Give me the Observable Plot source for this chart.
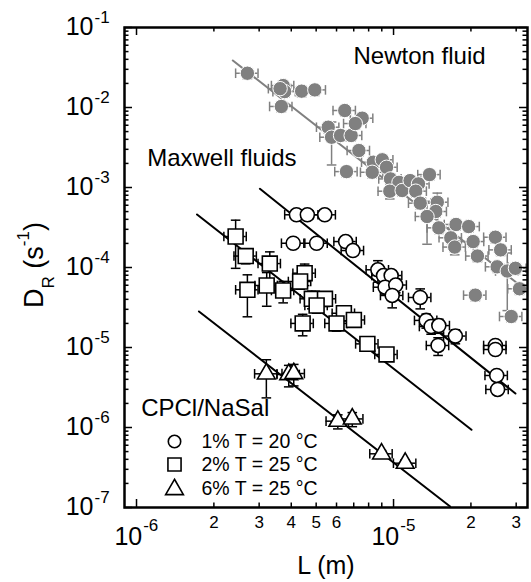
<!DOCTYPE html>
<html><head><meta charset="utf-8">
<script src="https://cdn.jsdelivr.net/npm/d3@7"></script>
<script src="https://cdn.jsdelivr.net/npm/@observablehq/plot@0.6"></script>
<style>body{margin:0;background:#fff;} svg{display:block;}</style>
</head><body><div id="chart"></div>
<script>
// ---- Newton fluid (gray filled circles)
const newtonL = [2.70e-6, 3.72e-6, 3.77e-6, 4.39e-6, 4.94e-6, 3.66e-6, 6.46e-6, 7.55e-6, 5.57e-6, 5.74e-6,
  6.22e-6, 6.84e-6, 7.33e-6, 6.56e-6, 8.34e-6, 9.04e-6, 9.39e-6, 8.26e-6, 9.73e-6, 1.05e-5,
  9.67e-6, 1.08e-5, 1.16e-5, 1.25e-5, 1.22e-5, 1.38e-5, 1.27e-5, 1.48e-5, 1.46e-5, 1.35e-5,
  1.50e-5, 1.75e-5, 1.96e-5, 1.67e-5, 1.73e-5, 2.04e-5, 2.12e-5, 2.49e-5, 2.61e-5, 2.53e-5,
  2.77e-5, 2.98e-5, 3.09e-5, 2.08e-5, 2.87e-5, 3.62e-6, 7.10e-6];
const newtonD = [2.68e-2, 1.88e-2, 1.58e-2, 1.60e-2, 1.66e-2, 1.03e-2, 9.17e-3, 7.35e-3, 5.67e-3, 4.25e-3,
  4.47e-3, 4.47e-3, 2.90e-3, 1.58e-3, 2.07e-3, 2.22e-3, 1.79e-3, 1.55e-3, 1.28e-3, 1.16e-3,
  8.99e-4, 9.17e-4, 1.22e-3, 1.11e-3, 9.00e-4, 1.45e-3, 6.37e-4, 6.55e-4, 5.01e-4, 4.34e-4,
  3.13e-4, 3.45e-4, 3.25e-4, 2.35e-4, 1.80e-4, 2.11e-4, 1.39e-4, 2.39e-4, 1.66e-4, 1.02e-4,
  9.04e-5, 9.77e-5, 5.42e-5, 4.51e-5, 2.44e-5, 1.72e-2, 6.30e-3];
const newtonErrD = [0.15, 0.15, 0.15, 0.15, 0.15, 0.15, 0.15, 0.15, 0.15, 0.55,
  0.15, 0.15, 0.15, 0.15, 0.15, 0.15, 0.15, 0.15, 0.15, 0.15,
  0.2, 0.15, 0.15, 0.15, 0.15, 0.15, 0.15, 0.3, 0.15, 0.55,
  0.15, 0.15, 0.15, 0.15, 0.2, 0.15, 0.15, 0.15, 0.15, 0.15,
  0.68, 0.15, 0.15, 0.15, 0.15, 0.15, 0.15];
// ---- CPCl/NaSal 1% T = 20 °C (open circles)
const c1L = [4.19e-6, 4.62e-6, 5.40e-6, 4.07e-6, 5.02e-6, 6.51e-6, 6.95e-6, 8.69e-6, 9.14e-6, 9.79e-6,
  9.27e-6, 1.02e-5, 9.88e-6, 1.27e-5, 1.34e-5, 1.40e-5, 1.50e-5, 1.49e-5, 1.74e-5, 2.49e-5,
  2.49e-5, 2.52e-5, 2.54e-5];
const c1D = [4.56e-4, 4.56e-4, 4.56e-4, 2.01e-4, 2.01e-4, 2.11e-4, 1.63e-4, 9.36e-5, 7.94e-5, 7.94e-5,
  5.67e-5, 6.04e-5, 4.47e-5, 4.22e-5, 2.18e-5, 1.83e-5, 1.88e-5, 1.06e-5, 1.39e-5, 1.06e-5,
  9.44e-6, 4.47e-6, 2.99e-6];
const c1ErrD = [0, 0, 0, 0, 0, 0, 0, 0.3, 0.1, 0.1, 0.2, 0.2, 0.3, 0.28, 0.2, 0.2, 0.2, 0.25, 0.2, 0, 0, 0.1, 0.1];
// ---- 2% T = 25 °C (open squares)
const c2L = [2.43e-6, 2.66e-6, 3.30e-6, 2.70e-6, 3.21e-6, 3.72e-6, 4.51e-6, 4.33e-6, 4.81e-6, 5.41e-6,
  5.02e-6, 6.41e-6, 7.01e-6, 4.43e-6, 6.00e-6, 7.91e-6, 9.39e-6];
const c2D = [2.44e-4, 1.39e-4, 1.12e-4, 5.26e-5, 5.96e-5, 5.16e-5, 8.49e-5, 6.68e-5, 4.06e-5, 4.06e-5,
  3.35e-5, 2.68e-5, 2.21e-5, 2.00e-5, 2.00e-5, 1.11e-5, 8.18e-6];
const c2ErrD = [0.6, 0.2, 0.4, 0.54, 0.45, 0.3, 0.3, 0.2, 0.25, 0.2, 0.2, 0.2, 0.15, 0.3, 0.2, 0.1, 0.1];
// ---- 6% T = 25 °C (open triangles)
const c6L = [3.20e-6, 3.91e-6, 4.09e-6, 6.07e-6, 6.91e-6, 8.98e-6, 1.11e-5];
const c6D = [4.69e-6, 4.60e-6, 4.73e-6, 1.20e-6, 1.28e-6, 4.69e-7, 3.58e-7];
const c6ErrD = [0.5, 0.3, 0.3, 0.2, 0.2, 0.1, 0.1];
// relative horizontal error on L
const errL = 0.1;
// ---- fit lines (end points)
const fitNewtonL = [2.37e-6, 3.04e-5], fitNewtonD = [3.87e-2, 6.31e-5];
const fit1L = [3.02e-6, 2.98e-5], fit1D = [9.63e-4, 2.66e-6];
const fit2L = [1.72e-6, 2.01e-5], fit2D = [4.60e-4, 9.36e-7];
const fit6L = [1.75e-6, 1.66e-5], fit6D = [2.82e-5, 1.03e-7];
// ---- axes
const xDomain = [8.98e-7, 3.32e-5];
const yDomain = [1e-7, 1e-1];
const yTicks = [1e-1, 1e-2, 1e-3, 1e-4, 1e-5, 1e-6, 1e-7];
const xMajor = [1e-6, 1e-5];
const xMinorVals = [2e-6, 3e-6, 4e-6, 5e-6, 6e-6, 7e-6, 8e-6, 9e-6, 2e-5, 3e-5];
const xMinorLabVals = [2e-6, 3e-6, 4e-6, 5e-6, 6e-6, 2e-5, 3e-5];
const xMinorLabText = ["2", "3", "4", "5", "6", "2", "3"];
const legendLabels = ["1% T = 20 °C", "2% T = 25 °C", "6% T = 25 °C"];

const rows = (L, D, E) => L.map((l, i) => ({L: l, D: D[i], ey: E ? E[i] : 0}));
const newton = rows(newtonL, newtonD, newtonErrD);
const s1 = rows(c1L, c1D, c1ErrD), s2 = rows(c2L, c2D, c2ErrD), s6 = rows(c6L, c6D, c6ErrD);
const line = (L, D) => L.map((l, i) => ({L: l, D: D[i]}));
const yMinor = d3.range(-7, -1).flatMap(e => d3.range(2, 10).map(k => k * Math.pow(10, e)));

const vCap = {draw(ctx, size) { const r = Math.sqrt(size / Math.PI); ctx.moveTo(0, -r); ctx.lineTo(0, r); }};
const hCap = {draw(ctx, size) { const r = Math.sqrt(size / Math.PI); ctx.moveTo(-r, 0); ctx.lineTo(r, 0); }};

const GRAY = "#808080";
function errorMarks(data, color) {
  const v = data.filter(d => d.ey > 0);
  return [
    Plot.ruleY(data, {y: "D", x1: d => d.L * (1 - errL), x2: d => d.L * (1 + errL), stroke: color, strokeWidth: 1.5, clip: true}),
    Plot.dot(data, {x: d => d.L * (1 - errL), y: "D", symbol: vCap, r: 4.8, fill: "none", stroke: color, strokeWidth: 1.5, clip: true}),
    Plot.dot(data, {x: d => d.L * (1 + errL), y: "D", symbol: vCap, r: 4.8, fill: "none", stroke: color, strokeWidth: 1.5, clip: true}),
    Plot.ruleX(v, {x: "L", y1: d => d.D * (1 - d.ey), y2: d => d.D * (1 + d.ey), stroke: color, strokeWidth: 1.5, clip: true}),
    Plot.dot(v, {x: "L", y: d => d.D * (1 - d.ey), symbol: hCap, r: 4.8, fill: "none", stroke: color, strokeWidth: 1.5, clip: true}),
    Plot.dot(v, {x: "L", y: d => d.D * (1 + d.ey), symbol: hCap, r: 4.8, fill: "none", stroke: color, strokeWidth: 1.5, clip: true})
  ];
}
const FONT = "Liberation Sans, Arial, Helvetica, sans-serif";
const FH = 480, FW = 403;

const chart = Plot.plot({
  width: 531, height: 582,
  marginLeft: 124, marginRight: 4, marginTop: 27, marginBottom: 75,
  style: {background: "white", fontFamily: FONT, color: "black"},
  x: {type: "log", domain: xDomain, axis: null},
  y: {type: "log", domain: yDomain, axis: null},
  marks: [
    ...errorMarks(newton, GRAY),
    Plot.line(line(fitNewtonL, fitNewtonD), {x: "L", y: "D", stroke: GRAY, strokeWidth: 2}),
    Plot.dot(newton, {x: "L", y: "D", r: 7.2, fill: GRAY, stroke: "white", strokeWidth: 1}),
    Plot.line(line(fit1L, fit1D), {x: "L", y: "D", stroke: "black", strokeWidth: 2}),
    Plot.line(line(fit2L, fit2D), {x: "L", y: "D", stroke: "black", strokeWidth: 2}),
    Plot.line(line(fit6L, fit6D), {x: "L", y: "D", stroke: "black", strokeWidth: 2}),
    ...errorMarks(s1, "black"),
    ...errorMarks(s2, "black"),
    ...errorMarks(s6, "black"),
    Plot.dot(s1, {x: "L", y: "D", r: 7, symbol: d3.symbolCircle, fill: "white", stroke: "black", strokeWidth: 1.6}),
    Plot.dot(s2, {x: "L", y: "D", r: 8.4, symbol: d3.symbolSquare, fill: "white", stroke: "black", strokeWidth: 1.6}),
    Plot.dot(s6, {x: "L", y: "D", r: 6.6, symbol: d3.symbolTriangle, fill: "white", stroke: "black", strokeWidth: 1.6}),
    // ticks (inward, all four sides)
    Plot.tickX(xMajor, {x: d => d, insetTop: FH - 8, stroke: "black", strokeWidth: 1.5}),
    Plot.tickX(xMajor, {x: d => d, insetBottom: FH - 8, stroke: "black", strokeWidth: 1.5}),
    Plot.tickX(xMinorVals, {x: d => d, insetTop: FH - 4.5, stroke: "black", strokeWidth: 1.5}),
    Plot.tickX(xMinorVals, {x: d => d, insetBottom: FH - 4.5, stroke: "black", strokeWidth: 1.5}),
    Plot.tickY(yTicks, {y: d => d, insetRight: FW - 8, stroke: "black", strokeWidth: 1.5}),
    Plot.tickY(yTicks, {y: d => d, insetLeft: FW - 8, stroke: "black", strokeWidth: 1.5}),
    Plot.tickY(yMinor, {y: d => d, insetRight: FW - 4.5, stroke: "black", strokeWidth: 1.5}),
    Plot.tickY(yMinor, {y: d => d, insetLeft: FW - 4.5, stroke: "black", strokeWidth: 1.5}),
    Plot.frame({stroke: "black", strokeWidth: 2.5}),
    // y tick labels
    Plot.text(yTicks, {y: d => d, frameAnchor: "left", dx: -31, dy: 7, textAnchor: "end", lineAnchor: "bottom", text: () => "10", fontSize: 25, fill: "black"}),
    Plot.text(yTicks, {y: d => d, frameAnchor: "left", dx: -30, dy: -5, textAnchor: "start", lineAnchor: "bottom", text: d => "-" + Math.round(-Math.log10(d)), fontSize: 17, fill: "black"}),
    // x tick labels
    Plot.text(xMajor, {x: d => d, frameAnchor: "bottom", dx: 5.7, dy: 37, textAnchor: "end", lineAnchor: "bottom", text: () => "10", fontSize: 25, fill: "black"}),
    Plot.text(xMajor, {x: d => d, frameAnchor: "bottom", dx: 6.7, dy: 23, textAnchor: "start", lineAnchor: "bottom", text: d => "-" + Math.round(-Math.log10(d)), fontSize: 17, fill: "black"}),
    Plot.text(xMinorLabVals, {x: d => d, frameAnchor: "bottom", dy: 20, lineAnchor: "bottom", text: (d, i) => xMinorLabText[i], fontSize: 17, fill: "black"}),
    Plot.text(["L (m)"], {frameAnchor: "bottom", dy: 66, lineAnchor: "bottom", fontSize: 25, fill: "black"}),
    // annotations
    Plot.text(["Newton fluid"], {frameAnchor: "top-left", dx: 229, dy: 36, textAnchor: "start", lineAnchor: "bottom", fontSize: 24, fill: "black"}),
    Plot.text(["Maxwell fluids"], {frameAnchor: "top-left", dx: 22.7, dy: 138, textAnchor: "start", lineAnchor: "bottom", fontSize: 24, fill: "black"}),
    Plot.text(["CPCl/NaSal"], {frameAnchor: "top-left", dx: 16.7, dy: 388, textAnchor: "start", lineAnchor: "bottom", fontSize: 24, fill: "black"}),
    // legend
    Plot.dot([0], {frameAnchor: "bottom-left", dx: 50, dy: -66, r: 6.2, symbol: d3.symbolCircle, fill: "white", stroke: "black", strokeWidth: 1.6}),
    Plot.dot([0], {frameAnchor: "bottom-left", dx: 50, dy: -43, r: 7.4, symbol: d3.symbolSquare, fill: "white", stroke: "black", strokeWidth: 1.6}),
    Plot.dot([0], {frameAnchor: "bottom-left", dx: 50, dy: -18, r: 6.6, symbol: d3.symbolTriangle, fill: "white", stroke: "black", strokeWidth: 1.6}),
    ...legendLabels.map((t, i) => Plot.text([t], {frameAnchor: "bottom-left", dx: 77, dy: [-66, -43, -19][i], textAnchor: "start", lineAnchor: "middle", fontSize: 19.5, fill: "black"}))
  ]
});

// y-axis title with subscript and superscript
const svg = d3.select(chart);
const t = svg.append("text")
  .attr("transform", "translate(43,265) rotate(-90)")
  .attr("text-anchor", "middle")
  .attr("font-family", FONT)
  .attr("font-size", 27)
  .attr("fill", "black");
t.append("tspan").text("D");
t.append("tspan").attr("font-size", 17).attr("dy", 11).text("R");
t.append("tspan").attr("dy", -11).text(" (s");
t.append("tspan").attr("font-size", 17).attr("dy", -14).text("-1");
t.append("tspan").attr("dy", 14).text(")");

document.getElementById("chart").appendChild(chart);
</script>
</body></html>
